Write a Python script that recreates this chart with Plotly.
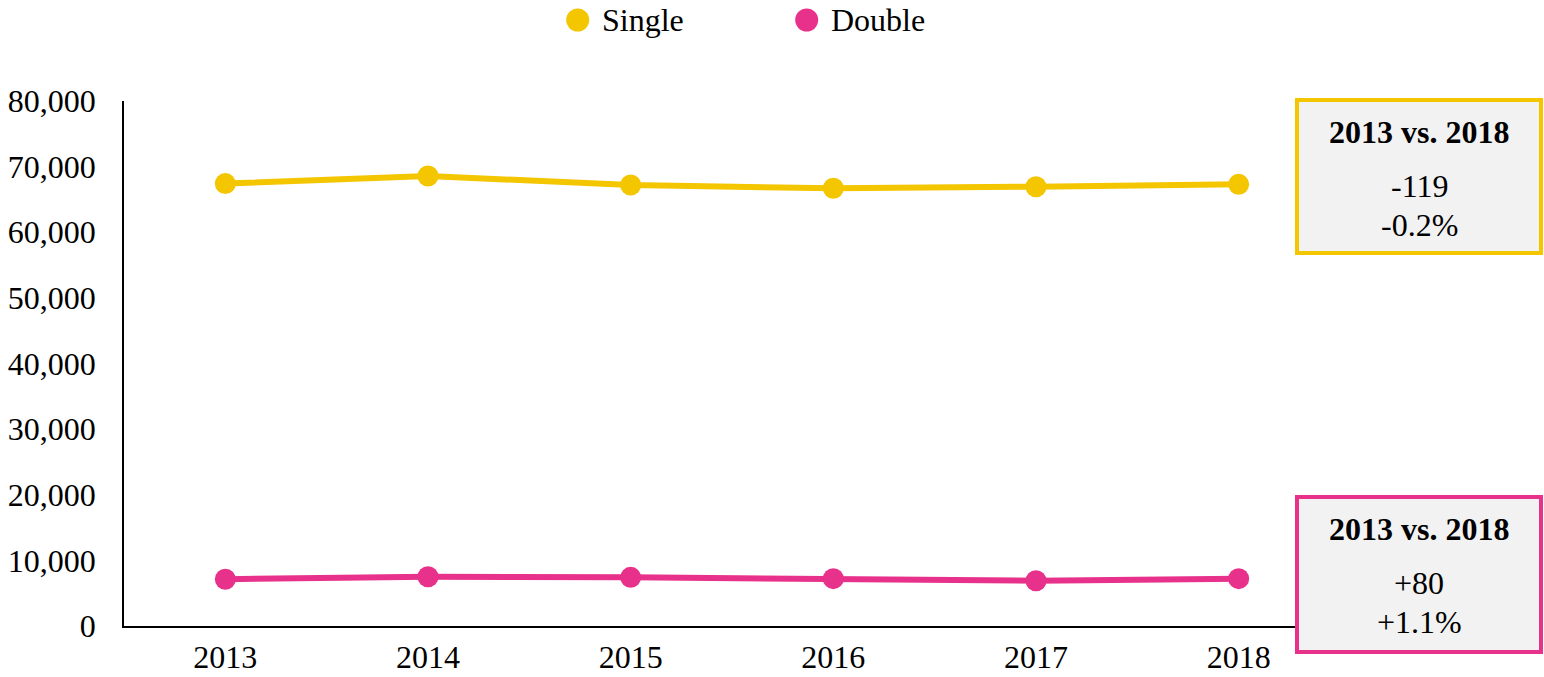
import plotly.graph_objects as go

years = ["2013", "2014", "2015", "2016", "2017", "2018"]
single = [67420, 68570, 67200, 66700, 66940, 67301]
double = [7130, 7510, 7420, 7210, 6900, 7210]
series_names = ["Single", "Double"]
colors = ["#F4C600", "#E8318A"]

FONT = "Liberation Serif"
FS = 32

W, H = 1544, 677
ML, MR, MT, MB = 124, 204, 101, 51
PW, PH = W - ML - MR, H - MT - MB


def px(x):
    return (x - ML) / PW


def py(y):
    return (H - MB - y) / PH


fig = go.Figure()
for name, vals, col in zip(series_names, [single, double], colors):
    fig.add_trace(go.Scatter(
        x=years, y=vals, name=name, mode="lines+markers",
        line=dict(color=col, width=6),
        marker=dict(color=col, size=21),
        showlegend=False,
    ))

shapes = []
annotations = []

# manual legend
legend_centers = [577.7, 806.7]
for name, col, cx in zip(series_names, colors, legend_centers):
    shapes.append(dict(type="circle", xref="paper", yref="paper",
                       xsizemode="pixel", ysizemode="pixel",
                       xanchor=px(cx), yanchor=py(20),
                       x0=-11.5, x1=11.5, y0=-11.5, y1=11.5,
                       fillcolor=col, line=dict(width=0)))
    annotations.append(dict(xref="paper", yref="paper", x=px(cx + 22), y=py(20),
                            xanchor="left", yanchor="middle", showarrow=False,
                            text=name, font=dict(family=FONT, size=FS, color="black")))

# comparison boxes
boxes = [
    (single, colors[0], 98, 255),
    (double, colors[1], 495, 654),
]
for vals, col, top, bot in boxes:
    shapes.append(dict(type="rect", xref="paper", yref="paper",
                       x0=px(1297), x1=px(1541), y0=py(bot - 2), y1=py(top + 2),
                       fillcolor="#F2F2F2", line=dict(color=col, width=4)))
    diff = vals[-1] - vals[0]
    pct = diff / vals[0] * 100
    cx = px(1419)
    lines = [
        (f"<b>{years[0]} vs. {years[-1]}</b>", top + 34),
        (f"{diff:+,d}", top + 88),
        (f"{pct:+.1f}%", top + 127),
    ]
    for txt, yy in lines:
        annotations.append(dict(xref="paper", yref="paper", x=cx, y=py(yy),
                                xanchor="center", yanchor="middle", showarrow=False,
                                text=txt, font=dict(family=FONT, size=FS, color="black")))

fig.update_layout(
    width=W, height=H, autosize=False,
    margin=dict(l=ML, r=MR, t=MT, b=MB, pad=0, autoexpand=False),
    paper_bgcolor="white", plot_bgcolor="white",
    font=dict(family=FONT, size=FS, color="black"),
    showlegend=False,
    shapes=shapes, annotations=annotations,
    xaxis=dict(type="category", range=[-0.5, 5.5], showgrid=False, zeroline=False,
               showline=True, linecolor="black", linewidth=1.5, ticks="",
               automargin=False,
               ticklabelstandoff=2, tickfont=dict(family=FONT, size=FS)),
    yaxis=dict(range=[0, 80000], dtick=10000, tickformat=",", showgrid=False,
               zeroline=False, showline=True, linecolor="black", linewidth=1.5,
               ticks="", automargin=False,
               ticklabelstandoff=20, tickfont=dict(family=FONT, size=FS)),
)

fig.write_html(
    "out.html",
    config={"responsive": False, "displayModeBar": False},
    post_script="document.body.style.margin='0';document.body.style.overflow='hidden';",
)
